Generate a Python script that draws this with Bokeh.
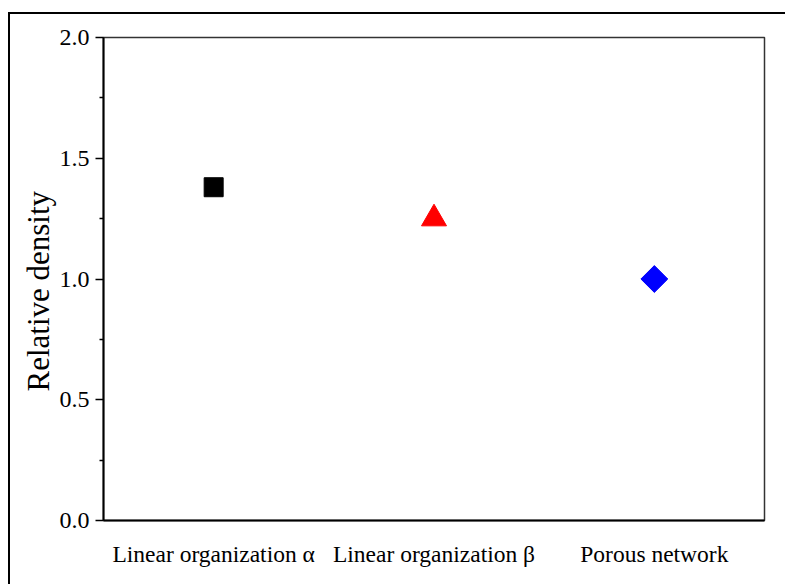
from bokeh.plotting import figure
from bokeh.models import Range1d, FactorRange, NumeralTickFormatter, FixedTicker, Title
from bokeh.embed import file_html
from bokeh.resources import INLINE
import math

categories = ["Linear organization \u03b1", "Linear organization \u03b2", "Porous network"]
relative_density = [1.38, 1.25, 1.00]
y_ticks = [0.0, 0.5, 1.0, 1.5, 2.0]
y_title = "Relative density"

FONT = "Liberation Serif"

p = figure(width=777, height=572, output_backend="svg", toolbar_location=None,
           x_range=FactorRange(*categories), y_range=Range1d(0, 2.0),
           min_border_left=93, min_border_right=23, min_border_top=23, min_border_bottom=66)
p.styles = {"border-top": "2px solid black", "border-left": "2px solid black",
            "margin-top": "12px", "margin-left": "8px"}

p.xgrid.visible = False
p.ygrid.visible = False
p.outline_line_color = "black"
p.outline_line_width = 1.5
p.outline_line_alpha = 0.8

# points
p.scatter(x=[categories[0]], y=[relative_density[0]], marker="square", size=19,
          fill_color="black", line_color="black")
p.scatter(x=[categories[1]], y=[relative_density[1]], marker="triangle", size=25,
          fill_color="red", line_color="red")
p.scatter(x=[categories[2]], y=[relative_density[2]], marker="square", size=19,
          angle=math.pi / 4, fill_color="blue", line_color="blue")

# y axis
ya = p.yaxis[0]
ya.ticker = FixedTicker(ticks=y_ticks, minor_ticks=[0.25, 0.75, 1.25, 1.75])
ya.formatter = NumeralTickFormatter(format="0.0")
ya.major_label_text_font = FONT
ya.major_label_text_font_size = "24px"
ya.major_label_text_color = "black"
ya.major_label_standoff = 6
ya.major_tick_out = 8
ya.major_tick_in = 0
ya.minor_tick_out = 4
ya.minor_tick_in = 0
ya.axis_line_width = 2
ya.major_tick_line_width = 1.5
ya.minor_tick_line_width = 1.5
ya.axis_line_color = "black"

# y-axis title, starting a little above the frame bottom as in the original
p.add_layout(Title(text=y_title, align="left", offset=129, standoff=2,
                   text_font=FONT, text_font_size="31px", text_font_style="normal",
                   text_color="black"), "left")

# x axis
xa = p.xaxis[0]
xa.major_tick_line_color = None
xa.minor_tick_line_color = None
xa.major_label_text_font = FONT
xa.major_label_text_font_size = "23.5px"
xa.major_label_text_color = "black"
xa.major_label_standoff = 14
xa.axis_line_width = 2
xa.axis_line_color = "black"

open("out.html", "w").write(file_html(p, INLINE))
